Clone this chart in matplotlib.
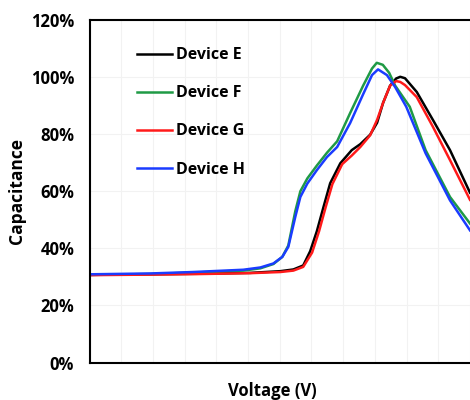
import matplotlib
matplotlib.use("Agg")
import matplotlib.pyplot as plt
from matplotlib.ticker import MultipleLocator, PercentFormatter

plt.rcParams['font.family'] = ['Open Sans', 'DejaVu Sans']
plt.rcParams['font.weight'] = 'bold'

# voltage in grid units (no tick labels on the original), capacitance in %
v_e = [0.00, 1.92, 3.50, 5.07, 6.02, 6.43, 6.74, 6.96, 7.17, 7.38, 7.59, 7.91, 8.27, 8.54,
       8.85, 9.07, 9.26, 9.48, 9.67, 9.80, 9.95, 10.32, 10.83, 11.37, 12.0]
c_e = [30.7, 30.9, 31.1, 31.4, 32.0, 32.6, 34.0, 39.0, 46.0, 54.5, 62.8, 69.8, 74.4, 76.5,
       79.8, 84.0, 91.0, 97.0, 99.5, 100.1, 99.6, 94.8, 85.0, 74.4, 59.5]

v_f = [0.00, 1.92, 3.26, 4.85, 5.39, 5.80, 6.08, 6.27, 6.49, 6.65, 6.87, 7.17, 7.49, 7.81,
       8.22, 8.63, 8.91, 9.06, 9.25, 9.45, 9.64, 10.10, 10.60, 11.37, 12.0]
c_f = [30.7, 31.0, 31.5, 32.2, 33.0, 34.5, 37.0, 41.0, 53.0, 60.0, 64.5, 69.0, 73.5, 77.5,
       87.4, 97.0, 103.0, 105.0, 104.3, 101.5, 97.0, 89.6, 74.4, 58.0, 48.7]

v_g = [0.00, 1.92, 3.50, 5.07, 6.02, 6.43, 6.74, 7.02, 7.24, 7.45, 7.66, 7.97, 8.27, 8.54,
       8.85, 9.07, 9.26, 9.48, 9.67, 9.80, 9.95, 10.32, 10.83, 11.37, 12.0]
c_g = [30.6, 30.8, 31.0, 31.3, 31.7, 32.2, 33.5, 38.5, 46.0, 54.5, 62.5, 69.5, 72.5, 75.5,
       79.6, 85.0, 91.0, 97.0, 98.6, 98.3, 97.2, 93.0, 82.6, 70.9, 57.0]

v_h = [0.00, 1.92, 3.26, 4.85, 5.39, 5.80, 6.08, 6.27, 6.49, 6.65, 6.87, 7.17, 7.49, 7.81,
       8.22, 8.63, 8.91, 9.10, 9.38, 9.64, 9.99, 10.60, 11.37, 12.0]
c_h = [30.9, 31.2, 31.7, 32.5, 33.3, 34.7, 37.0, 40.5, 51.0, 58.0, 62.7, 67.4, 72.0, 75.5,
       83.9, 94.0, 100.7, 102.7, 100.7, 96.5, 89.6, 73.3, 56.8, 46.3]

series = [
    ("Device E", v_e, c_e, "black"),
    ("Device F", v_f, c_f, "#1f9a45"),
    ("Device G", v_g, c_g, "#ff1a1a"),
    ("Device H", v_h, c_h, "#1a3cff"),
]

fig = plt.figure(figsize=(4.7, 4.0), dpi=100)
left = 89.5 / 470
right_px = 476
ax = fig.add_axes([left, 37.5 / 400, (right_px - 89.5) / 470, 342.5 / 400])

for name, v, c, col in series:
    ax.plot(v, c, color=col, lw=1.8, label=name)

ax.set_xlim(0, 12 * (right_px - 89.5) / (470 - 89.5))
ax.set_ylim(0, 120)
ax.yaxis.set_major_locator(MultipleLocator(20))
ax.yaxis.set_major_formatter(PercentFormatter(decimals=0))
ax.xaxis.set_major_locator(MultipleLocator(1))
ax.tick_params(axis='x', length=0, labelbottom=False)
ax.tick_params(axis='y', length=0, pad=11, labelsize=12)
for lbl in ax.get_yticklabels():
    lbl.set_fontweight('bold')
ax.grid(True, color='#f2f2f2', lw=0.8)
ax.set_axisbelow(True)
for s in ['left', 'bottom', 'top', 'right']:
    ax.spines[s].set_linewidth(1.5)

ax.set_ylabel("Capacitance", fontsize=12.5, fontweight='bold')
ax.yaxis.set_label_coords(-0.165, 0.5)
ax.set_xlabel("Voltage (V)", fontsize=12, fontweight='bold')
ax.xaxis.set_label_coords(0.472, -0.057)

ax.legend(loc='upper left', bbox_to_anchor=(0.085, 0.962), frameon=False,
          prop={'size': 11.5, 'weight': 'bold'}, handlelength=2.2,
          handletextpad=0.25, labelspacing=1.38)

fig.savefig("out.png", dpi=100)
